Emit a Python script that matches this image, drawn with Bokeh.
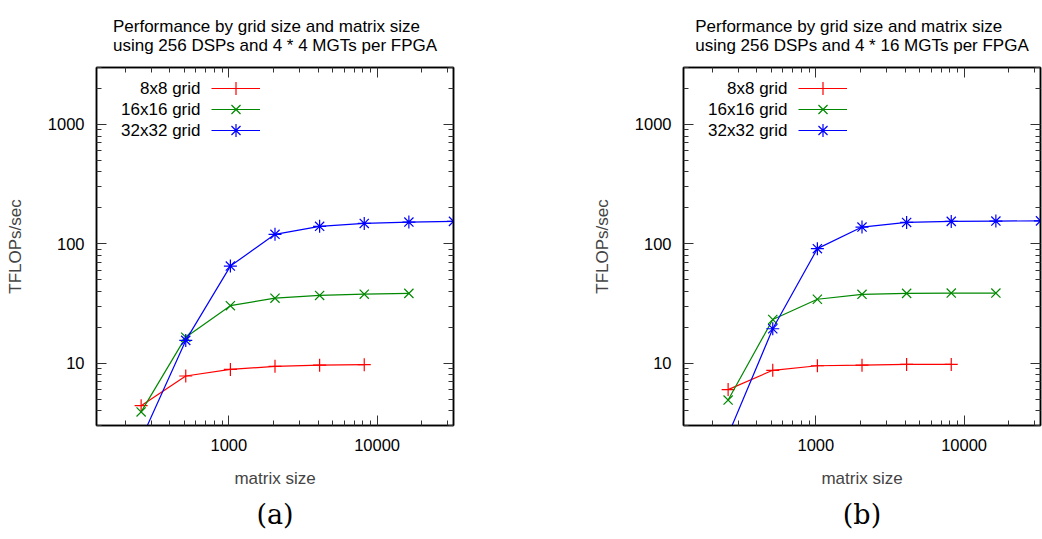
from bokeh.plotting import figure
from bokeh.models import (LogAxis, FixedTicker, PrintfTickFormatter, Legend,
                          LegendItem, Label, Title, Range1d)
from bokeh.layouts import row
from bokeh.embed import file_html
from bokeh.resources import INLINE

# ---------------- data ----------------
matrix_sizes = [256, 512, 1024, 2048, 4096, 8192, 16384, 32768]
series_names = ["8x8 grid", "16x16 grid", "32x32 grid"]

a_8x8 = [4.4, 7.8, 8.85, 9.4, 9.6, 9.7]
a_16x16 = [3.9, 16.5, 30.3, 35.0, 36.9, 37.8, 38.4]
a_32x32 = [2.3, 15.5, 65.0, 120.0, 140.0, 148.0, 152.0, 154.0]

b_8x8 = [6.0, 8.7, 9.5, 9.6, 9.75, 9.75]
b_16x16 = [4.9, 23.2, 34.3, 37.7, 38.4, 38.6, 38.6]
b_32x32 = [2.5, 19.4, 91.0, 138.0, 151.0, 154.0, 155.0, 155.5]

titles = [
    "Performance by grid size and matrix size\nusing 256 DSPs and 4 * 4 MGTs per FPGA",
    "Performance by grid size and matrix size\nusing 256 DSPs and 4 * 16 MGTs per FPGA",
]
captions = ["(a)", "(b)"]
x_label = "matrix size"
y_label = "TFLOPs/sec"
x_major = [1000, 10000]
y_major = [10, 100, 1000]
x_limits = (128, 32768)
y_limits = (3, 3000)

x_minor = [m * 10 ** e for e in (2, 3, 4) for m in range(2, 10)]
y_minor = [m * 10 ** e for e in (0, 1, 2, 3) for m in range(2, 10)]

colors = ["#ff0000", "#008800", "#0000ff"]
markers = ["cross", "x", "asterisk"]
FONT = "Liberation Sans"
FW, FH = 357, 358


def style_axis(ax, ticks, minor, labels=True):
    ax.ticker = FixedTicker(ticks=ticks, minor_ticks=minor)
    ax.axis_line_color = "black"
    ax.axis_line_width = 1.5
    ax.major_tick_in = 10
    ax.major_tick_out = 0
    ax.minor_tick_in = 5
    ax.minor_tick_out = 0
    ax.major_tick_line_color = "#333333"
    ax.minor_tick_line_color = "#333333"
    ax.major_label_text_font = FONT
    ax.major_label_text_color = "black"
    if labels:
        ax.formatter = PrintfTickFormatter(format="%d")
        ax.major_label_text_font_size = "16.5px"
    else:
        ax.formatter = PrintfTickFormatter(format="")
        ax.major_label_text_font_size = "1px"
        ax.major_label_standoff = 0


def make_plot(idx, series, left_border, right_border):
    top_b, bot_b = 67, 114
    p = figure(
        width=left_border + FW + right_border, height=top_b + FH + bot_b,
        x_axis_type="log", y_axis_type="log",
        x_range=Range1d(*x_limits), y_range=Range1d(*y_limits),
        output_backend="svg", toolbar_location=None,
        min_border_left=left_border, min_border_right=right_border,
        min_border_top=top_b, min_border_bottom=bot_b,
    )
    p.title = Title(text=titles[idx], align="center", text_font=FONT,
                    text_font_size="17px", text_font_style="normal",
                    text_color="black", text_line_height=1.05, standoff=24)
    p.grid.visible = False
    p.outline_line_color = "black"
    p.outline_line_width = 1.5

    xa = p.xaxis[0]
    style_axis(xa, x_major, x_minor)
    xa.major_label_standoff = 13
    xa.axis_label = x_label
    xa.axis_label_text_font = FONT
    xa.axis_label_text_font_size = "17px"
    xa.axis_label_text_font_style = "normal"
    xa.axis_label_standoff = 15

    ya = p.yaxis[0]
    style_axis(ya, y_major, y_minor)
    ya.major_label_standoff = 12
    ya.axis_label = y_label
    ya.axis_label_text_font = FONT
    ya.axis_label_text_font_size = "17px"
    ya.axis_label_text_font_style = "normal"
    ya.axis_label_standoff = 20

    top = LogAxis()
    style_axis(top, x_major, x_minor, labels=False)
    p.add_layout(top, "above")
    rt = LogAxis()
    style_axis(rt, y_major, y_minor, labels=False)
    p.add_layout(rt, "right")

    for k, vals in enumerate(series):
        xs = matrix_sizes[:len(vals)]
        ln = p.line(xs, vals, line_color=colors[k], line_width=1.2)
        sc = p.scatter(xs, vals, marker=markers[k], size=13,
                       line_color=colors[k], line_width=1.2)
        # one legend box per entry: sample line + marker, label on the left
        leg = Legend(items=[LegendItem(label=" ", renderers=[ln, sc])],
                     location=(115, 320.7 - 21 * k), glyph_width=49,
                     glyph_height=32, label_height=32, label_width=0,
                     label_standoff=0, spacing=0, padding=0, margin=0,
                     border_line_color=None, background_fill_alpha=0)
        p.add_layout(leg, "center")
        p.add_layout(Label(x=104, y=336.7 - 21 * k, x_units="screen",
                           y_units="screen", text=series_names[k],
                           text_align="right", text_baseline="middle",
                           text_font=FONT, text_font_size="17px",
                           text_color="black"))

    p.add_layout(Title(text=captions[idx], align="center",
                       text_font="DejaVu Serif", text_font_size="27px",
                       text_font_style="normal", text_color="black",
                       standoff=13), "below")
    return p


p1 = make_plot(0, [a_8x8, a_16x16, a_32x32], 96, 10)
p2 = make_plot(1, [b_8x8, b_16x16, b_32x32], 220, 2)
layout = row(p1, p2)

open("out.html", "w").write(file_html(layout, INLINE))
